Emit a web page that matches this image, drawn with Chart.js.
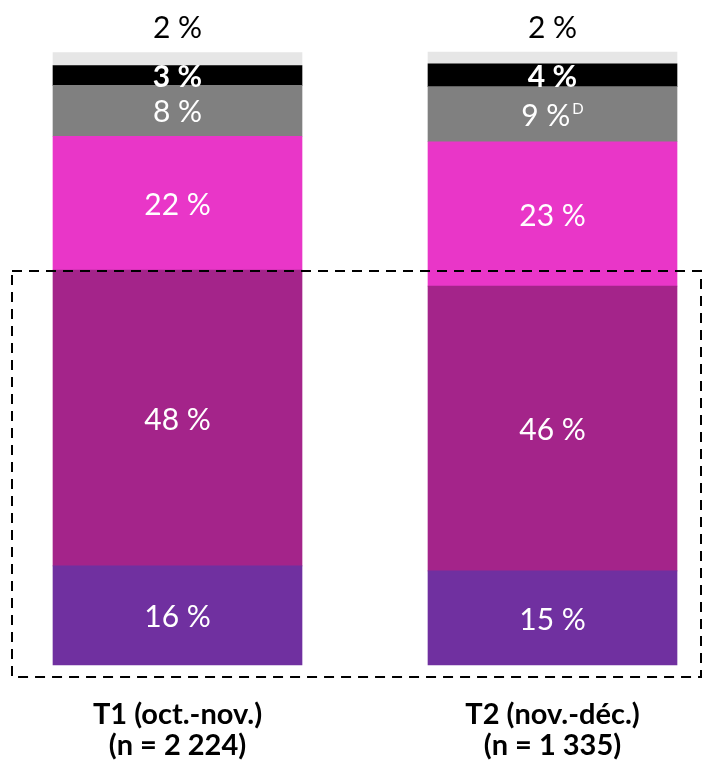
<!DOCTYPE html>
<html>
<head>
<meta charset="utf-8">
<script src="https://cdn.jsdelivr.net/npm/chart.js@4/dist/chart.umd.min.js"></script>
<style>
  html, body { margin: 0; padding: 0; background: #ffffff; }
  #c { display: block; }
</style>
</head>
<body>
<canvas id="c" width="702" height="760"></canvas>
<script>
// ---- Data (labels show rounded values) ----
const categories = [["T1 (oct.-nov.)", "(n = 2 224)"], ["T2 (nov.-déc.)", "(n = 1 335)"]];
const seriesNames = ["Série 1", "Série 2", "Série 3", "Série 4", "Série 5", "Série 6"];
const series1 = [16.0, 15.2];
const series2 = [47.8, 46.0];
const series3 = [21.6, 23.3];
const series4 = [8.2, 8.9];
const series5 = [3.2, 3.7];
const series6 = [2.1, 1.9];
const series4Notes = ["", "D"];
const yMax = 99;

// ---- Styles ----
const colors = ["#7030A0", "#A4248A", "#E936C8", "#808080", "#000000", "#E6E6E6"];
const FONT = "Lato, 'Open Sans', 'DejaVu Sans', sans-serif";

const allSeries = [series1, series2, series3, series4, series5, series6];
const notes = [null, null, null, series4Notes, null, null];

const labelPlugin = {
  id: 'segLabels',
  afterDatasetsDraw(chart) {
    const ctx = chart.ctx;
    const n = chart.data.datasets.length;
    // dashed frame
    const ys = chart.scales.y;
    const top = ys.getPixelForValue(series1[0] + series2[0]) + 1;
    const bottom = chart.chartArea.bottom + 12;
    ctx.save();
    ctx.strokeStyle = '#000';
    ctx.lineWidth = 2;
    ctx.setLineDash([10, 7]);
    ctx.strokeRect(12, top, 701 - 12, bottom - top);
    ctx.restore();

    chart.data.datasets.forEach((ds, di) => {
      const meta = chart.getDatasetMeta(di);
      meta.data.forEach((bar, i) => {
        const v = ds.data[i];
        const txt = Math.round(v) + ' %';
        ctx.save();
        ctx.textAlign = 'left';
        ctx.textBaseline = 'middle';
        let y, color = '#ffffff', weight = 'normal';
        if (di === n - 1) {
          y = Math.min(bar.y, bar.base) - 24;
          color = '#000000';
        } else {
          y = (bar.y + bar.base) / 2 + 2;
        }
        if (di === 4) weight = 'bold';
        ctx.font = weight + ' 30px ' + FONT;
        const w = ctx.measureText(txt).width;
        const note = notes[di] ? notes[di][i] : '';
        let nw = 0;
        if (note) {
          ctx.font = 'normal 15px ' + FONT;
          nw = ctx.measureText(note).width + 2;
        }
        const x0 = bar.x - (w + nw) / 2;
        ctx.fillStyle = color;
        ctx.font = weight + ' 30px ' + FONT;
        ctx.fillText(txt, x0, y);
        if (note) {
          ctx.font = 'normal 15px ' + FONT;
          ctx.fillText(note, x0 + w + 2, y - 7);
        }
        ctx.restore();
      });
    });
  }
};

function build() {
  new Chart(document.getElementById('c'), {
    type: 'bar',
    data: {
      labels: categories,
      datasets: allSeries.map((d, k) => ({
        label: seriesNames[k],
        data: d,
        backgroundColor: colors[k],
        borderWidth: 0,
        barThickness: 249,
        clip: false
      }))
    },
    options: {
      responsive: false,
      animation: false,
      devicePixelRatio: 1,
      layout: { padding: { left: 177.5, right: 149.5, top: 52, bottom: 0 } },
      plugins: { legend: { display: false }, tooltip: { enabled: false } },
      scales: {
        x: {
          stacked: true,
          offset: false,
          grid: { display: false, drawTicks: false },
          border: { display: false },
          afterFit(scale) { scale.height = 95; },
          ticks: {
            padding: 34,
            color: '#000000',
            font: { family: FONT, size: 29, weight: 'bold', lineHeight: 31 / 29 },
            maxRotation: 0, minRotation: 0, autoSkip: false
          }
        },
        y: {
          stacked: true,
          display: false,
          min: 0,
          max: yMax
        }
      }
    },
    plugins: [labelPlugin]
  });
}

if (document.fonts && document.fonts.load) {
  Promise.all([
    document.fonts.load('30px Lato'),
    document.fonts.load('bold 30px Lato')
  ]).then(build, build);
} else {
  build();
}
</script>
</body>
</html>
